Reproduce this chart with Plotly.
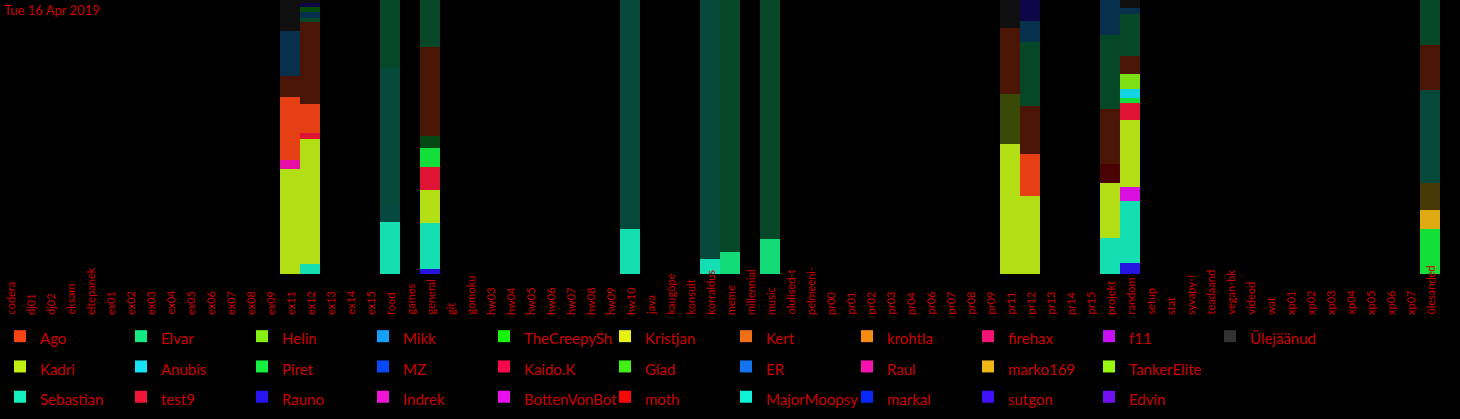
import plotly.graph_objects as go

# ---------------- data ----------------
categories = ["codera", "dj01", "dj02", "eksam", "eltepanek", "ex01", "ex02", "ex03", "ex04",
              "ex05", "ex06", "ex07", "ex08", "ex09", "ex11", "ex12", "ex13", "ex14", "ex15",
              "food", "games", "general", "git", "gomoku", "hw03", "hw04", "hw05", "hw06",
              "hw07", "hw08", "hw09", "hw10", "java", "kaugõpe", "konsult", "korraldus", "meme",
              "millennial", "music", "olulised-t", "pelmeeni-", "pr00", "pr01", "pr02", "pr03",
              "pr04", "pr06", "pr07", "pr08", "pr09", "pr11", "pr12", "pr13", "pr14", "pr15",
              "projekt", "random", "setup", "stat", "syvapy-!", "teadaand", "vegan-bk", "videod",
              "wat", "xp01", "xp02", "xp03", "xp04", "xp05", "xp06", "xp07", "ülesanded"]

# users as listed in the legend (column by column)
users = ["Ago", "Kadri", "Sebastian", "Elvar", "Anubis", "test9", "Helin", "Piret", "Rauno",
         "Mikk", "MZ", "Indrek", "TheCreepySh", "Kaido.K", "BottenVonBot", "Kristjan", "Glad",
         "moth", "Kert", "ER", "MajorMoopsy", "krohtla", "Raul", "markal", "firehax", "marko169",
         "sutgon", "f11", "TankerElite", "Edvin", "Ülejäänud"]

user_colors = ["#f84414", "#c0f014", "#14f0c0", "#14ec80", "#14e4f4", "#f01438", "#84f014",
               "#14f040", "#2814f0", "#14a0f8", "#0848f8", "#f014d8", "#14f808", "#f8084c",
               "#e810f0", "#e8f014", "#40f014", "#f80808", "#f07014", "#1474f0", "#10f0d4",
               "#f88c10", "#f810b0", "#0828f8", "#f01474", "#f0b814", "#4010f8", "#c810f8",
               "#98f810", "#7010f0", "#333333"]

# recent messages per channel (bright segments)
rauno_new = {"general": 5, "random": 11}
sebastian_new = {"ex12": 10, "food": 52, "general": 46, "hw10": 45, "korraldus": 15,
                 "projekt": 36, "random": 61}
bottenvonbot_new = {"random": 14}
kadri_new = {"ex11": 105, "ex12": 125, "general": 32, "pr11": 130, "pr12": 78,
             "projekt": 54, "random": 67}
raul_new = {"ex11": 9}
test9_new = {"ex12": 5, "general": 23, "random": 17}
piret_new = {"general": 19, "random": 5, "ülesanded": 45}
anubis_new = {"random": 9}
helin_new = {"random": 15}
ago_new = {"ex11": 63, "ex12": 29, "pr12": 42}
elvar_new = {"meme": 22, "music": 35}
marko169_new = {"ülesanded": 19}

# older messages per channel (dark segments)
marko169_old = {"ülesanded": 27}
kadri_old = {"pr11": 50}
moth_old = {"projekt": 19}
majormoopsy_old = {"food": 16}
sebastian_old = {"food": 137, "hw10": 229, "korraldus": 259, "ülesanded": 92}
piret_old = {"general": 12}
ago_old = {"ex11": 21, "ex12": 82, "general": 88, "pr11": 66, "pr12": 47, "projekt": 55,
           "random": 17, "ülesanded": 45}
elvar_old = {"ex12": 4, "food": 68, "general": 47, "meme": 252, "music": 239, "pr12": 64,
             "projekt": 73, "random": 42, "ülesanded": 45}
mikk_old = {"ex11": 45, "ex12": 6, "pr12": 21, "projekt": 35, "random": 6}
thecreepysh_old = {"ex12": 5}
rauno_old = {"ex12": 4, "pr12": 21}
others_old = {"ex11": 31, "ex12": 3, "pr11": 28, "random": 8}

new_series = [("Rauno", rauno_new), ("Sebastian", sebastian_new),
              ("BottenVonBot", bottenvonbot_new), ("Kadri", kadri_new), ("Raul", raul_new),
              ("test9", test9_new), ("Piret", piret_new), ("Anubis", anubis_new),
              ("Helin", helin_new), ("Ago", ago_new), ("Elvar", elvar_new),
              ("marko169", marko169_new)]
old_series = [("marko169", marko169_old), ("Kadri", kadri_old), ("moth", moth_old),
              ("MajorMoopsy", majormoopsy_old), ("Sebastian", sebastian_old),
              ("Piret", piret_old), ("Ago", ago_old), ("Elvar", elvar_old), ("Mikk", mikk_old),
              ("TheCreepySh", thecreepysh_old), ("Rauno", rauno_old), ("Ülejäänud", others_old)]

date_label = "Tue 16 Apr 2019"

# ---------------- style ----------------
FONT = "Lato, Liberation Sans, sans-serif"
RED = "#cc0000"
color_of = dict(zip(users, user_colors))
N_COLS = 11

# legend rank: legend is laid out row by row, 3 rows x 11 columns
rank_of = {}
for i, u in enumerate(users):
    col, row = divmod(i, 3)
    rank_of[u] = (row * N_COLS + col + 1) * 10
PLACEHOLDER_RANK = (1 * N_COLS + 10 + 1) * 10

fig = go.Figure()

new_map = dict(new_series)
ordered_new = [u for u, _ in new_series] + [u for u in users if u not in new_map]
for u in ordered_new:
    vals = new_map.get(u, {})
    fig.add_trace(go.Bar(
        x=categories, y=[vals.get(c, 0) for c in categories],
        name=f'<span style="font-size:15px">{u}</span>', legendgroup=u,
        legendrank=rank_of[u], marker=dict(color=color_of[u], opacity=0.93, line=dict(width=0)),
        hoverinfo="x+y"))

# invisible legend slot to end the second row
fig.add_trace(go.Bar(x=[categories[0]], y=[0], name=" ", legendrank=PLACEHOLDER_RANK,
                     marker=dict(color="rgba(0,0,0,0)", line=dict(width=0)),
                     hoverinfo="skip", showlegend=True))

for u, vals in old_series:
    fig.add_trace(go.Bar(
        x=categories, y=[vals.get(c, 0) for c in categories],
        name=u + " (varem)", legendgroup=u, showlegend=False,
        marker=dict(color=color_of[u], opacity=0.3, line=dict(width=0)),
        hoverinfo="name+x+y"))

W, H = 1460, 419
M_L, M_R, M_T, M_B = 0, 20, 0, 145
plot_h = H - M_T - M_B


def paper_y(px):
    return 1 - (px - M_T) / plot_h


annotations = [dict(x=c, xref="x", y=paper_y(317), yref="paper", xanchor="center",
                    yanchor="bottom", text=c, textangle=-90, showarrow=False,
                    font=dict(family=FONT, size=11, color=RED))
               for c in categories]

fig.update_layout(
    width=W, height=H,
    margin=dict(l=M_L, r=M_R, t=M_T, b=M_B),
    paper_bgcolor="black", plot_bgcolor="black",
    barmode="stack", barnorm="percent", bargap=0,
    title=dict(text=date_label, x=0, xref="paper", xanchor="left", y=1, yref="container",
               yanchor="top", pad=dict(l=4, t=6), font=dict(family=FONT, size=13, color=RED)),
    xaxis=dict(type="category", categoryorder="array", categoryarray=categories,
               range=[-0.5, len(categories) - 0.5], showticklabels=False, showgrid=False,
               zeroline=False, showline=False, ticks=""),
    yaxis=dict(range=[0, 100], visible=False, showgrid=False, zeroline=False),
    showlegend=True,
    legend=dict(orientation="h", x=0, xanchor="left", y=paper_y(316), yanchor="top",
                traceorder="normal", entrywidth=76, entrywidthmode="pixels",
                font=dict(family=FONT, size=21, color=RED), bgcolor="rgba(0,0,0,0)",
                itemclick=False, itemdoubleclick=False),
    annotations=annotations,
)

fig.write_html("out.html", config={"displayModeBar": False},
               post_script="document.body.style.margin='0';")
